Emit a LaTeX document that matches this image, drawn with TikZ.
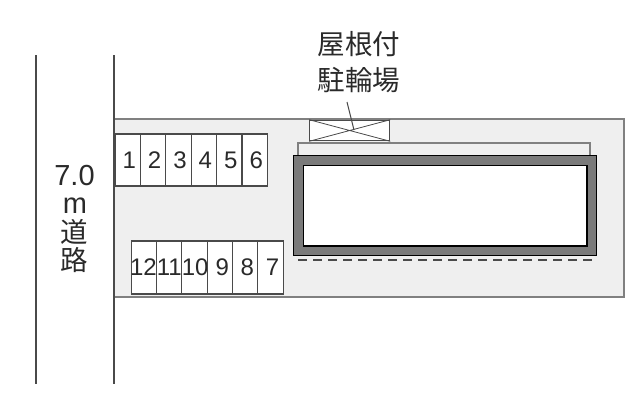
\documentclass[tikz,border=0pt]{standalone}
\usepackage{fontspec}
\setmainfont{Liberation Sans}
\newfontfamily\cjk{Noto Sans CJK JP}
\definecolor{lot}{HTML}{EFEFEF}
\definecolor{linegray}{HTML}{808080}
\definecolor{darkline}{HTML}{4A4A4A}
\definecolor{wall}{HTML}{7A7A7A}
\definecolor{ink}{HTML}{2A2A2A}
\tikzset{
  px/.style={x=1pt,y=-1pt},
  cellbox/.style={draw=darkline,fill=white,line width=1.1pt,minimum width=25.5pt,inner sep=0pt,text=ink,font=\fontsize{24}{24}\selectfont},
  topcell/.style={cellbox,minimum height=52pt},
  botcell/.style={cellbox,minimum height=53pt},
  roadline/.style={draw=darkline,line width=1.3pt},
  cjklabel/.style={inner sep=0pt,text=ink,font=\cjk\fontsize{27.5}{27.5}\selectfont}
}
\begin{document}
\begin{tikzpicture}[px]
\useasboundingbox (0,0) rectangle (640,400);
\fill[white] (0,0) rectangle (640,400);
% lot
\draw[fill=lot,draw=linegray,line width=1.3pt] (114,119) rectangle (624,297);
% roads
\draw[roadline] (36,55) -- (36,384);
\draw[roadline] (114,55) -- (114,384);
% top parking
\foreach \n [count=\i from 0] in {1,...,6} {
  \node[topcell] (t\n) at ({127.7+25.4*\i},160) {\makebox[0pt]{\kern 3pt\n}};
}
% bottom parking
\foreach \n/\k [count=\i from 0] in {12/-1,11/0,10/1,9/5,8/4,7/4} {
  \node[botcell] (b\n) at ({144+25.3*\i},267.5) {\makebox[0pt]{\kern \k pt\n}};
}
% eave above building
\draw[draw=linegray,fill=lot,line width=1.3pt] (298,156) -- (298,143) -- (590,143) -- (590,156);
% dashed eave below
\draw[draw=darkline,line width=1.1pt,dash pattern=on 9pt off 6pt] (298,260) -- (591,260) -- (591,256);
% building
\draw[draw=black,fill=wall,line width=1.6pt] (293.5,155.5) rectangle (596.5,255.5);
\draw[draw=black,fill=white,line width=1.6pt] (303.5,165.5) rectangle (587,246);
% bike shelter
\node[draw=darkline,fill=white,line width=1.1pt,minimum width=80pt,minimum height=20.5pt,inner sep=0pt] (bike) at (349.7,130.5) {};
\draw[draw=darkline,line width=.8pt] (bike.north west) -- (bike.south east) (bike.north east) -- (bike.south west);
\node[cjklabel] (roof) at (359,44.5) {屋根付};
\node[cjklabel] (cyc) at (359,80.5) {駐輪場};
\coordinate (leadstart) at (347,102);
\coordinate (leadend) at (354,130);
\draw[draw=darkline,line width=1pt] (leadstart) -- (leadend);
% road label
\node[inner sep=0pt,text=ink,font=\fontsize{29}{29}\selectfont] (w) at (74.5,176) {7.0};
\node[inner sep=0pt,text=ink,font=\fontsize{29}{29}\selectfont] (m) at (75,206) {m};
\node[cjklabel] (d1) at (74.5,232) {道};
\node[cjklabel] (d2) at (74.5,260) {路};
\end{tikzpicture}
\end{document}
